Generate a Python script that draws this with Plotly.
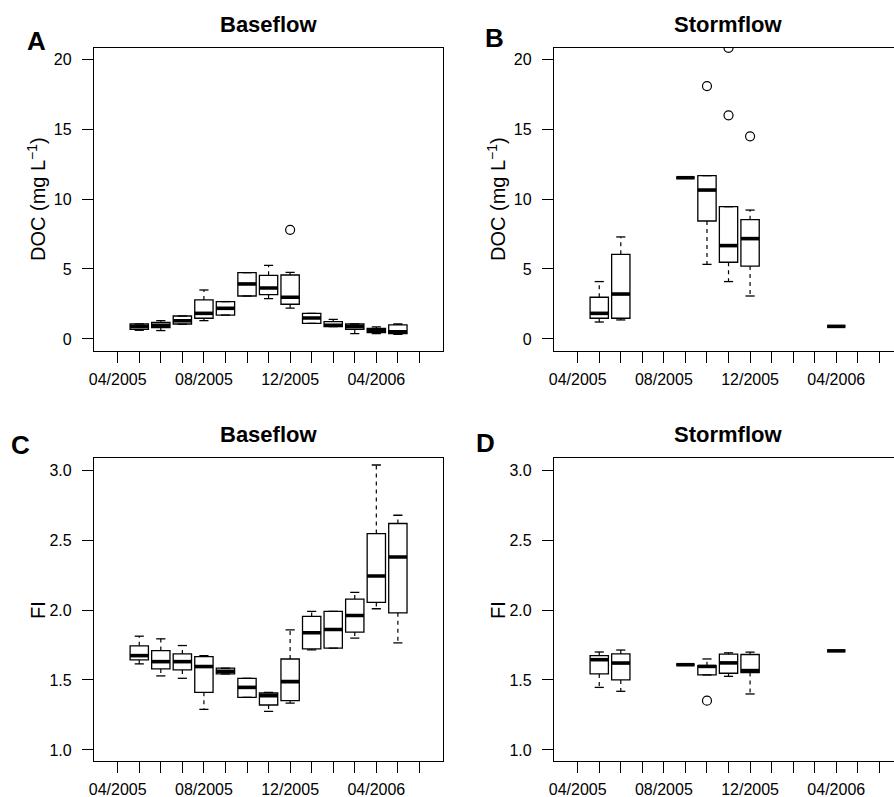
import plotly.graph_objects as go

W, H = 894, 797

# ---------------- data ----------------
months = list(range(1, 16))
label_months = [1, 5, 9, 13]
month_labels = ["04/2005", "08/2005", "12/2005", "04/2006"]

# Panel A: Baseflow DOC (mg/L)
a_x = [2, 3, 4, 5, 6, 7, 8, 9, 10, 11, 12, 13, 14]
a_low = [0.62, 0.60, 1.05, 1.31, 1.71, 3.07, 2.88, 2.21, 1.12, 0.88, 0.38, 0.38, 0.33]
a_q1 = [0.69, 0.81, 1.07, 1.48, 1.71, 3.07, 3.17, 2.48, 1.12, 0.88, 0.69, 0.45, 0.38]
a_med = [0.88, 0.98, 1.30, 1.83, 2.19, 3.93, 3.64, 2.98, 1.50, 0.98, 0.88, 0.60, 0.52]
a_q3 = [1.07, 1.19, 1.64, 2.79, 2.67, 4.74, 4.55, 4.57, 1.83, 1.24, 1.07, 0.76, 1.00]
a_up = [1.07, 1.31, 1.64, 3.50, 2.67, 4.74, 5.26, 4.76, 1.83, 1.40, 1.07, 0.86, 1.07]
a_out_x = [9]
a_out_y = [7.8]

# Panel B: Stormflow DOC (mg/L)
b_x = [2, 3, 6, 7, 8, 9, 13]
b_low = [1.21, 1.36, 11.52, 5.33, 4.10, 3.07, 0.90]
b_q1 = [1.48, 1.48, 11.52, 8.43, 5.48, 5.21, 0.90]
b_med = [1.83, 3.21, 11.52, 10.64, 6.67, 7.17, 0.90]
b_q3 = [2.98, 6.05, 11.52, 11.67, 9.45, 8.52, 0.90]
b_up = [4.10, 7.29, 11.52, 11.67, 9.45, 9.21, 0.90]
b_out_x = [7, 8, 8, 9]
b_out_y = [18.07, 15.98, 20.8, 14.48]

# Panel C: Baseflow FI
c_x = [2, 3, 4, 5, 6, 7, 8, 9, 10, 11, 12, 13, 14]
c_low = [1.615, 1.529, 1.512, 1.290, 1.543, 1.376, 1.275, 1.335, 1.715, 1.727, 1.799, 2.009, 1.765]
c_q1 = [1.643, 1.579, 1.572, 1.412, 1.543, 1.376, 1.321, 1.352, 1.722, 1.727, 1.842, 2.054, 1.980]
c_med = [1.674, 1.631, 1.631, 1.596, 1.562, 1.447, 1.388, 1.488, 1.837, 1.861, 1.961, 2.243, 2.379]
c_q3 = [1.744, 1.710, 1.686, 1.667, 1.584, 1.512, 1.407, 1.650, 1.954, 1.990, 2.078, 2.546, 2.618]
c_up = [1.813, 1.794, 1.746, 1.674, 1.584, 1.512, 1.412, 1.858, 1.990, 1.990, 2.126, 3.036, 2.677]
c_out_x = []
c_out_y = []

# Panel D: Stormflow FI
d_x = [2, 3, 6, 7, 8, 9, 13]
d_low = [1.447, 1.419, 1.609, 1.536, 1.526, 1.400, 1.708]
d_q1 = [1.543, 1.500, 1.609, 1.536, 1.548, 1.553, 1.708]
d_med = [1.645, 1.621, 1.609, 1.597, 1.622, 1.567, 1.708]
d_q3 = [1.674, 1.686, 1.609, 1.602, 1.684, 1.682, 1.708]
d_up = [1.700, 1.714, 1.609, 1.650, 1.694, 1.699, 1.708]
d_out_x = [7]
d_out_y = [1.352]

doc_ticks = [0, 5, 10, 15, 20]
fi_ticks = [1.0, 1.5, 2.0, 2.5, 3.0]

# ---------------- style ----------------
FONT = "Liberation Sans, Arial, Helvetica, sans-serif"
BOXW = 0.85
LW = 1.3

fig = go.Figure()


def add_panel(n, x, low, q1, med, q3, up, ox, oy):
    xa = "x" if n == 1 else f"x{n}"
    ya = "y" if n == 1 else f"y{n}"
    fig.add_trace(go.Box(
        x=x, q1=q1, median=med, q3=q3, lowerfence=q1, upperfence=q3,
        width=BOXW, fillcolor="white", line=dict(color="black", width=LW),
        whiskerwidth=0, boxpoints=False, xaxis=xa, yaxis=ya,
        hoverinfo="skip", showlegend=False))
    # thick medians
    mx, my = [], []
    for xi, m in zip(x, med):
        mx += [xi - BOXW / 2, xi + BOXW / 2, None]
        my += [m, m, None]
    fig.add_trace(go.Scatter(x=mx, y=my, mode="lines", line=dict(color="black", width=3.6),
                             xaxis=xa, yaxis=ya, hoverinfo="skip", showlegend=False))
    # dashed whiskers
    wx, wy = [], []
    for xi, lo, a, b, hi in zip(x, low, q1, q3, up):
        if hi > b:
            wx += [xi, xi, None]
            wy += [b, hi, None]
        if lo < a:
            wx += [xi, xi, None]
            wy += [a, lo, None]
    fig.add_trace(go.Scatter(x=wx, y=wy, mode="lines",
                             line=dict(color="black", width=1.2, dash="4px,4px"),
                             xaxis=xa, yaxis=ya, hoverinfo="skip", showlegend=False))
    # staples
    sx, sy = [], []
    for xi, lo, hi in zip(x, low, up):
        for v in (lo, hi):
            sx += [xi - BOXW / 4, xi + BOXW / 4, None]
            sy += [v, v, None]
    fig.add_trace(go.Scatter(x=sx, y=sy, mode="lines", line=dict(color="black", width=LW),
                             xaxis=xa, yaxis=ya, hoverinfo="skip", showlegend=False))
    if ox:
        fig.add_trace(go.Scatter(x=ox, y=oy, mode="markers",
                                 marker=dict(symbol="circle-open", size=9, color="black",
                                             line=dict(width=1.2, color="black")),
                                 xaxis=xa, yaxis=ya, hoverinfo="skip", showlegend=False))


add_panel(1, a_x, a_low, a_q1, a_med, a_q3, a_up, a_out_x, a_out_y)
add_panel(2, b_x, b_low, b_q1, b_med, b_q3, b_up, b_out_x, b_out_y)
add_panel(3, c_x, c_low, c_q1, c_med, c_q3, c_up, c_out_x, c_out_y)
add_panel(4, d_x, d_low, d_q1, d_med, d_q3, d_up, d_out_x, d_out_y)

# ---------------- layout ----------------
def px_x(p):
    return p / W


def px_y(p):
    return 1 - p / H


left_dom = [px_x(94), px_x(442.7)]
right_dom = [px_x(554), 1.0]
top_dom = [px_y(351), px_y(48)]
bot_dom = [px_y(761), px_y(458.3)]

tickfont = dict(family=FONT, size=16, color="black")


def xaxis(dom, anchor, rng):
    return dict(domain=dom, anchor=anchor, range=rng, tickvals=label_months, ticktext=month_labels,
                ticks="outside", ticklen=11, tickwidth=LW, tickcolor="black",
                minor=dict(tickvals=months, ticks="outside", ticklen=11, tickwidth=LW,
                           tickcolor="black", showgrid=False),
                showline=True, linecolor="black", linewidth=LW, mirror=True,
                showgrid=False, zeroline=False, tickfont=tickfont, ticklabelstandoff=3,
                automargin=False, fixedrange=True)


def yaxis(dom, anchor, rng, tv, fmt, mirror):
    return dict(domain=dom, anchor=anchor, range=rng, tickvals=tv, tickformat=fmt,
                ticks="outside", ticklen=11, tickwidth=LW, tickcolor="black",
                showline=True, linecolor="black", linewidth=LW, mirror=mirror,
                showgrid=False, zeroline=False, tickfont=tickfont, ticklabelstandoff=7,
                automargin=False, fixedrange=True)


doc_rng = [-0.86, 20.79]
fi_rng = [0.921, 3.084]

fig.update_layout(
    width=W, height=H,
    margin=dict(l=0, r=0, t=0, b=0, pad=0, autoexpand=False),
    paper_bgcolor="white", plot_bgcolor="white",
    font=dict(family=FONT, color="black"),
    showlegend=False,
    xaxis=xaxis(left_dom, "y", [-0.1, 16.08]),
    yaxis=yaxis(top_dom, "x", doc_rng, doc_ticks, "d", True),
    xaxis2=xaxis(right_dom, "y2", [-0.1, 15.68]),
    yaxis2=yaxis(top_dom, "x2", doc_rng, doc_ticks, "d", False),
    xaxis3=xaxis(left_dom, "y3", [-0.1, 16.08]),
    yaxis3=yaxis(bot_dom, "x3", fi_rng, fi_ticks, ".1f", True),
    xaxis4=xaxis(right_dom, "y4", [-0.1, 15.68]),
    yaxis4=yaxis(bot_dom, "x4", fi_rng, fi_ticks, ".1f", False),
)

ann = []


def text(x, y, s, size, bold=False, angle=0):
    ann.append(dict(x=px_x(x), y=px_y(y), xref="paper", yref="paper", text=f"<b>{s}</b>" if bold else s,
                    showarrow=False, xanchor="center", yanchor="middle", textangle=angle,
                    font=dict(family=FONT, size=size, color="black")))


text(268, 24, "Baseflow", 22, True)
text(728, 24, "Stormflow", 22, True)
text(268, 434, "Baseflow", 22, True)
text(728, 434, "Stormflow", 22, True)
text(36, 41, "A", 26, True)
text(494, 38, "B", 26, True)
text(20, 445, "C", 26, True)
text(485, 443, "D", 26, True)
text(36, 199, "DOC (mg L<sup>\u22121</sup>)", 20, angle=-90)
text(496, 199, "DOC (mg L<sup>\u22121</sup>)", 20, angle=-90)
text(38, 610, "FI", 20, angle=-90)
text(498, 610, "FI", 20, angle=-90)
fig.update_layout(annotations=ann)

fig.write_html("out.html", config={"displayModeBar": False},
               post_script="document.body.style.margin='0';document.body.style.padding='0';")
